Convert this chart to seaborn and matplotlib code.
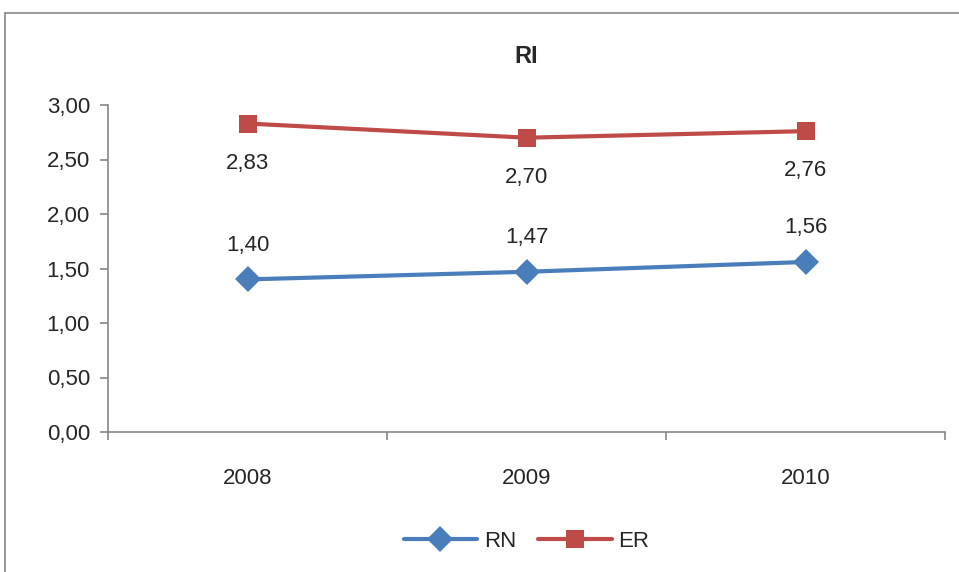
import pandas as pd
import seaborn as sns
import matplotlib.pyplot as plt
from matplotlib.patches import Rectangle
from matplotlib.ticker import FuncFormatter

years = ['2008', '2009', '2010']
rn_values = [1.40, 1.47, 1.56]
er_values = [2.83, 2.70, 2.76]

sns.set_style('white')
plt.rcParams['font.family'] = ['Liberation Sans', 'DejaVu Sans']

df = pd.DataFrame({
    'year': years * 2,
    'value': rn_values + er_values,
    'series': ['RN'] * 3 + ['ER'] * 3,
})
df['pos'] = df['year'].map({y: i for i, y in enumerate(years)})

colors = {'RN': '#4A7EBB', 'ER': '#BE4B48'}
markers = {'RN': 'D', 'ER': 's'}
fs = 16

fig = plt.figure(figsize=(9.59, 5.72), dpi=100)
# outer chart border (runs off the right and bottom edges)
fig.patches.append(Rectangle((5 / 959, -0.1), 1.1, 1.1 - 13 / 572, transform=fig.transFigure,
                             fill=False, edgecolor='#868686', linewidth=1.2))
ax = fig.add_axes([108 / 959, 1 - 432 / 572, (945 - 108) / 959, (432 - 105) / 572])

sns.lineplot(data=df, x='pos', y='value', hue='series', style='series',
             palette=colors, markers=markers, dashes=False, linewidth=3,
             markersize=13, markeredgewidth=0, ax=ax)

# data labels: RN above the points, ER below
for i, v in enumerate(rn_values):
    ax.annotate(f'{v:.2f}'.replace('.', ','), (i, v), xytext=(0, 17),
                textcoords='offset points', ha='center', va='bottom', fontsize=fs)
for i, v in enumerate(er_values):
    ax.annotate(f'{v:.2f}'.replace('.', ','), (i, v), xytext=(0, -21),
                textcoords='offset points', ha='center', va='top', fontsize=fs)

ax.set_xlim(-0.5, 2.5)
ax.set_ylim(0, 3)
ax.set_yticks([0, 0.5, 1, 1.5, 2, 2.5, 3])
ax.yaxis.set_major_formatter(FuncFormatter(lambda v, p: f'{v:.2f}'.replace('.', ',')))
ax.set_xticks([0, 1, 2])
ax.set_xticklabels(years)
ax.set_xticks([-0.5, 0.5, 1.5, 2.5], minor=True)
ax.tick_params(axis='x', which='major', length=0, pad=26, labelsize=fs)
ax.tick_params(axis='x', which='minor', length=6, color='#868686', width=1.2, direction='out')
ax.tick_params(axis='y', length=6, color='#868686', width=1.2, direction='out', labelsize=fs, pad=7)
ax.xaxis.set_ticks_position('bottom')
ax.yaxis.set_ticks_position('left')

for side in ['top', 'right']:
    ax.spines[side].set_visible(False)
for side in ['left', 'bottom']:
    ax.spines[side].set_color('#868686')
    ax.spines[side].set_linewidth(1.2)

ax.set_xlabel('')
ax.set_ylabel('')
ax.set_title('RI', fontsize=17, fontweight='bold', pad=30)

handles, labels = ax.get_legend_handles_labels()
ax.legend(handles, labels, loc='center', bbox_to_anchor=(0.5, -0.335), ncol=2,
          frameon=False, fontsize=fs, handlelength=3.3, columnspacing=1.0, handletextpad=0.3)

fig.savefig('out.png', dpi=100)
